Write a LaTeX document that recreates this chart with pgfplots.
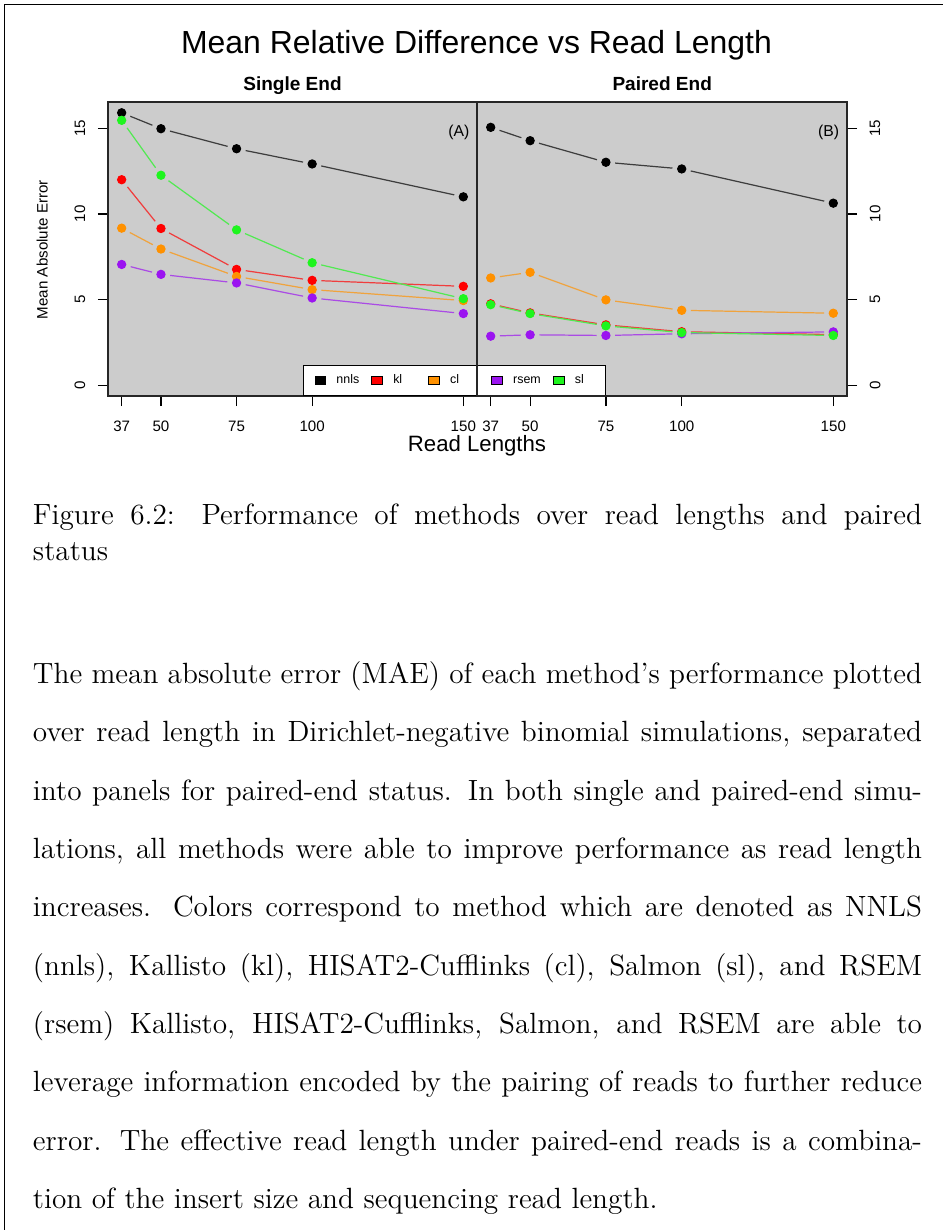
\documentclass[border=0pt]{standalone}
\usepackage{fontspec}
\usepackage{pgfplots}
\pgfplotsset{compat=1.18}
\usepackage{pgfplotstable}
\newfontfamily\arial{Liberation Sans}
\definecolor{panel}{RGB}{204,204,204}
\definecolor{cnnls}{RGB}{0,0,0}
\definecolor{ckl}{RGB}{255,0,0}
\definecolor{ccl}{RGB}{255,145,0}
\definecolor{crsem}{RGB}{155,20,240}
\definecolor{csl}{RGB}{30,245,30}

% points, single end
\pgfplotstableread{
x nnls kl cl rsem sl
37 15.91 12.00 9.17 7.05 15.47
50 14.98 9.15 7.95 6.47 12.26
75 13.81 6.76 6.35 5.97 9.07
100 12.92 6.12 5.58 5.09 7.15
150 11.00 5.77 4.94 4.18 5.05
}\ptsL
% segments, single end
\pgfplotstableread{
x0 x1 nnls0 nnls1 kl0 kl1 cl0 cl1 rsem0 rsem1 sl0 sl1
37 50 15.91 14.98 12.00 9.15 9.17 7.95 7.05 6.47 15.47 12.26
50 75 14.98 13.81 9.15 6.76 7.95 6.35 6.47 5.97 12.26 9.07
75 100 13.81 12.92 6.76 6.12 6.35 5.58 5.97 5.09 9.07 7.15
100 150 12.92 11.00 6.12 5.77 5.58 4.94 5.09 4.18 7.15 5.05
}\segL
% points, paired end
\pgfplotstableread{
x nnls kl cl rsem sl
37 15.06 4.75 6.26 2.86 4.70
50 14.28 4.22 6.59 2.94 4.18
75 13.02 3.52 4.98 2.90 3.46
100 12.63 3.12 4.37 3.00 3.07
150 10.63 2.95 4.20 3.11 2.90
}\ptsR
% segments, paired end
\pgfplotstableread{
x0 x1 nnls0 nnls1 kl0 kl1 cl0 cl1 rsem0 rsem1 sl0 sl1
37 50 15.06 14.28 4.75 4.22 6.26 6.59 2.86 2.94 4.70 4.18
50 75 14.28 13.02 4.22 3.52 6.59 4.98 2.94 2.90 4.18 3.46
75 100 13.02 12.63 3.52 3.12 4.98 4.37 2.90 3.00 3.46 3.07
100 150 12.63 10.63 3.12 2.95 4.37 4.20 3.00 3.11 3.07 2.90
}\segR

\pgfplotsset{
  panelax/.style={
    scale only axis, height=120.54pt,
    xmin=32.48, xmax=154.52, ymin=-0.636, ymax=16.54,
    axis line style={black!85, line width=0.55pt},
    tick style={black, line width=0.5pt},
    major tick length=4.1pt, tick align=outside,
    xtick={37,50,75,100,150}, ytick={0,5,10,15},
    xtick pos=left,
    /pgf/number format/assume math mode=true,
    ticklabel style={font=\arial\fontsize{6.2}{7}\selectfont},
    xticklabel style={anchor=north, inner sep=0pt},
    xticklabel shift=6.0pt,
    yticklabel shift=5.05pt,
  },
  seg/.style n args={2}{no markers, forget plot, draw=#2!70!panel, line width=0.5pt,
    quiver={u=\thisrow{x1}-\thisrow{x0}, v=\thisrow{#11}-\thisrow{#10},
      every arrow/.append style={draw=#2!70!panel, line width=0.5pt, shorten <=3.8pt, shorten >=3.8pt}}},
  pts/.style={only marks, mark=*, mark size=1.7pt, color=#1, mark options={draw=#1, fill=#1}},
}

\begin{document}
\begin{tikzpicture}[x=0.41pt, y=-0.41pt]
\useasboundingbox (0,0) rectangle (943,1230);
\draw[line width=0.6pt] (4.3,1230) -- (4.3,4.3) -- (943,4.3);
\fill[panel] (108,102) rectangle (847,396);
\coordinate (Lsw) at (108,396);
\coordinate (Rsw) at (477,396);

\begin{axis}[panelax, at={(Lsw)}, anchor=south west, width=151.29pt,
  ytick pos=left,
  yticklabel style={rotate=90, anchor=south, inner sep=0pt},
  legend columns=5,
  legend cell align=left,
  legend image code/.code={\draw[#1, fill, draw=black, line width=0.35pt] (0pt,-1.8pt) rectangle (4.3pt,1.8pt);},
  legend style={at={(axis description cs:0.5285,0)}, anchor=south west, draw=black, fill=white, line width=0.5pt,
    inner xsep=4.5pt, inner ysep=0pt, font=\arial\fontsize{5.1}{6}\selectfont,
    nodes={inner sep=0pt, text height=7.47pt, text depth=4.83pt},
    /tikz/every odd column/.style={column sep=4.3pt},
    /tikz/every even column/.style={column sep=0pt}},
]
\addplot[seg={nnls}{cnnls}] table[x=x0, y=nnls0]{\segL};
\addplot[pts=cnnls] table[x=x, y=nnls]{\ptsL};
\addlegendentry{\makebox[14.35pt][l]{nnls}}
\addplot[seg={kl}{ckl}] table[x=x0, y=kl0]{\segL};
\addplot[pts=ckl] table[x=x, y=kl]{\ptsL};
\addlegendentry{\makebox[14.35pt][l]{kl}}
\addplot[seg={cl}{ccl}] table[x=x0, y=cl0]{\segL};
\addplot[pts=ccl] table[x=x, y=cl]{\ptsL};
\addlegendentry{\makebox[16.9pt][l]{cl}}
\addplot[seg={rsem}{crsem}] table[x=x0, y=rsem0]{\segL};
\addplot[pts=crsem] table[x=x, y=rsem]{\ptsL};
\addlegendentry{\makebox[16.4pt][l]{rsem}}
\addplot[seg={sl}{csl}] table[x=x0, y=sl0]{\segL};
\addplot[pts=csl] table[x=x, y=sl]{\ptsL};
\addlegendentry{\makebox[7.9pt][l]{sl}}
\end{axis}

\begin{axis}[panelax, at={(Rsw)}, anchor=south west, width=151.7pt,
  ytick pos=right,
  yticklabel style={rotate=90, anchor=north, inner sep=0pt},
]
\addplot[seg={nnls}{cnnls}] table[x=x0, y=nnls0]{\segR};
\addplot[pts=cnnls] table[x=x, y=nnls]{\ptsR};
\addplot[seg={kl}{ckl}] table[x=x0, y=kl0]{\segR};
\addplot[pts=ckl] table[x=x, y=kl]{\ptsR};
\addplot[seg={cl}{ccl}] table[x=x0, y=cl0]{\segR};
\addplot[pts=ccl] table[x=x, y=cl]{\ptsR};
\addplot[seg={rsem}{crsem}] table[x=x0, y=rsem0]{\segR};
\addplot[pts=crsem] table[x=x, y=rsem]{\ptsR};
\addplot[seg={sl}{csl}] table[x=x0, y=sl0]{\segR};
\addplot[pts=csl] table[x=x, y=sl]{\ptsR};
\end{axis}

% titles and labels
\node[anchor=base, inner sep=0pt, font=\arial\fontsize{13.1}{15}\selectfont] at (476.5,53.3) {Mean Relative Difference vs Read Length};
\node[anchor=base, inner sep=0pt, font=\arial\bfseries\fontsize{7.8}{9}\selectfont] at (292.5,90) {Single End};
\node[anchor=base, inner sep=0pt, font=\arial\bfseries\fontsize{7.8}{9}\selectfont] at (662.2,90) {Paired End};
\node[anchor=base, inner sep=0pt, font=\arial\fontsize{6.45}{8}\selectfont] at (458.8,136.5) {(A)};
\node[anchor=base, inner sep=0pt, font=\arial\fontsize{6.45}{8}\selectfont] at (828.7,136.5) {(B)};
\node[anchor=base, inner sep=0pt, font=\arial\fontsize{9.1}{11}\selectfont] at (477,451.7) {Read Lengths};
\node[anchor=base, rotate=90, inner sep=0pt, font=\arial\fontsize{6.2}{7}\selectfont] at (47.5,249.7) {Mean Absolute Error};

% caption and text
\begingroup
\fontsize{12}{14.5}\selectfont
\def\W{364.5pt}
\node[anchor=base west, inner sep=0pt] at (32.5,524.3) {\hbox to \W{Figure 6.2: Performance of methods over read lengths and paired}};
\node[anchor=base west, inner sep=0pt] at (32.5,560) {status};
\node[anchor=base west, inner sep=0pt] at (32.5,683.3) {\hbox to \W{The mean absolute error (MAE) of each method's performance plotted}};
\node[anchor=base west, inner sep=0pt] at (32.5,741.6) {\hbox to \W{over read length in Dirichlet-negative binomial simulations, separated}};
\node[anchor=base west, inner sep=0pt] at (32.5,800.0) {\hbox to \W{into panels for paired-end status. In both single and paired-end simu-}};
\node[anchor=base west, inner sep=0pt] at (32.5,858.3) {\hbox to \W{lations, all methods were able to improve performance as read length}};
\node[anchor=base west, inner sep=0pt] at (32.5,916.6) {\hbox to \W{increases. Colors correspond to method which are denoted as NNLS}};
\node[anchor=base west, inner sep=0pt] at (32.5,975.0) {\hbox to \W{(nnls), Kallisto (kl), HISAT2-Cufflinks (cl), Salmon (sl), and RSEM}};
\node[anchor=base west, inner sep=0pt] at (32.5,1033.3) {\hbox to \W{(rsem) Kallisto, HISAT2-Cufflinks, Salmon, and RSEM are able to}};
\node[anchor=base west, inner sep=0pt] at (32.5,1091.6) {\hbox to \W{leverage information encoded by the pairing of reads to further reduce}};
\node[anchor=base west, inner sep=0pt] at (32.5,1150.0) {\hbox to \W{error. The effective read length under paired-end reads is a combina-}};
\node[anchor=base west, inner sep=0pt] at (32.5,1208.3) {tion of the insert size and sequencing read length.};
\endgroup
\end{tikzpicture}
\end{document}
